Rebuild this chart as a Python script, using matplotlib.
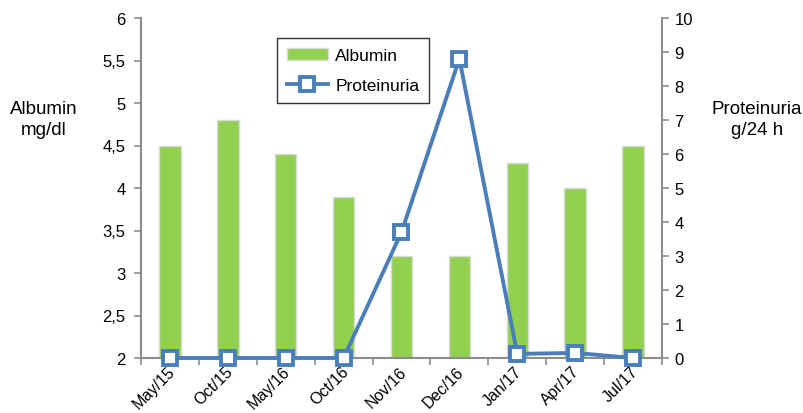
import matplotlib.pyplot as plt
import matplotlib.transforms as mtransforms
import numpy as np

plt.rcParams['font.family'] = ['Liberation Sans', 'DejaVu Sans']

months = ['May/15', 'Oct/15', 'May/16', 'Oct/16', 'Nov/16',
          'Dec/16', 'Jan/17', 'Apr/17', 'Jul/17']
albumin = [4.5, 4.8, 4.4, 3.9, 3.2, 3.2, 4.3, 4.0, 4.5]
proteinuria = [0, 0, 0, 0, 3.7, 8.8, 0.12, 0.15, 0]

axis_grey = '#8c8c8c'
green = '#92d050'
blue = '#4a7ebb'

fig = plt.figure(figsize=(8.04, 4.14), dpi=100)
ax = fig.add_axes([141 / 804, 1 - 359 / 414, 521 / 804, 340 / 414])
x = np.arange(len(months))

bars = ax.bar(x, [a - 2 for a in albumin], bottom=2, width=0.37,
              color=green, edgecolor='#d9d9d9', linewidth=1.0,
              label='Albumin', zorder=2)
ax.set_ylim(2, 6)
ax.set_xlim(-0.5, len(months) - 0.5)
ax.set_yticks(np.arange(2, 6.01, 0.5))
ax.set_yticklabels([f'{v:g}'.replace('.', ',') for v in np.arange(2, 6.01, 0.5)])

ax2 = ax.twinx()
line, = ax2.plot(x, proteinuria, color=blue, linewidth=2.8, marker='s',
                 markersize=10, markerfacecolor='white', markeredgecolor=blue,
                 markeredgewidth=2.8, label='Proteinuria', zorder=3,
                 clip_on=False)
ax2.set_ylim(0, 10)
ax2.set_yticks(range(0, 11))

# category ticks sit between the groups, labels at the centres
ax.set_xticks(np.arange(-0.5, len(months), 1.0))
ax.set_xticklabels([])
ax.set_xticks(x, minor=True)
ax.set_xticklabels(months, minor=True, rotation=45, ha='right',
                   rotation_mode='anchor', fontsize=11.5)
ax.tick_params(axis='x', which='minor', length=0, pad=4)
ax.tick_params(axis='x', which='major', length=5, color=axis_grey, width=1.2)
shift = mtransforms.ScaledTranslation(-3 / 100, 0, fig.dpi_scale_trans)
for lbl in ax.get_xticklabels(minor=True):
    lbl.set_transform(lbl.get_transform() + shift)

for a in (ax, ax2):
    a.spines['top'].set_visible(False)
    for s in ('left', 'right', 'bottom'):
        a.spines[s].set_color(axis_grey)
        a.spines[s].set_linewidth(1.5)
ax.spines['right'].set_visible(False)
ax2.spines['left'].set_visible(False)
ax2.spines['bottom'].set_visible(False)
ax.tick_params(axis='y', length=5, color=axis_grey, width=1.2, labelsize=12, pad=6)
ax2.tick_params(axis='y', length=5, color=axis_grey, width=1.2, labelsize=12, pad=4)

fig.text(44 / 804, 1 - 120 / 414, 'Albumin\nmg/dl', ha='center', va='center',
         fontsize=13.5, linespacing=1.3)
fig.text(757 / 804, 1 - 120 / 414, 'Proteinuria\ng/24 h', ha='center',
         va='center', fontsize=13.5, linespacing=1.3)

leg = ax2.legend([bars, line], ['Albumin', 'Proteinuria'],
                 loc='upper left', bbox_to_anchor=(277 / 804, 1 - 39 / 414),
                 bbox_transform=fig.transFigure, borderaxespad=0,
                 frameon=True, fancybox=False, edgecolor='black',
                 fontsize=12.5, handlelength=2.4, labelspacing=0.9,
                 borderpad=0.55, handletextpad=0.4)
leg.get_frame().set_linewidth(1.0)

fig.savefig('out.png', dpi=100)
